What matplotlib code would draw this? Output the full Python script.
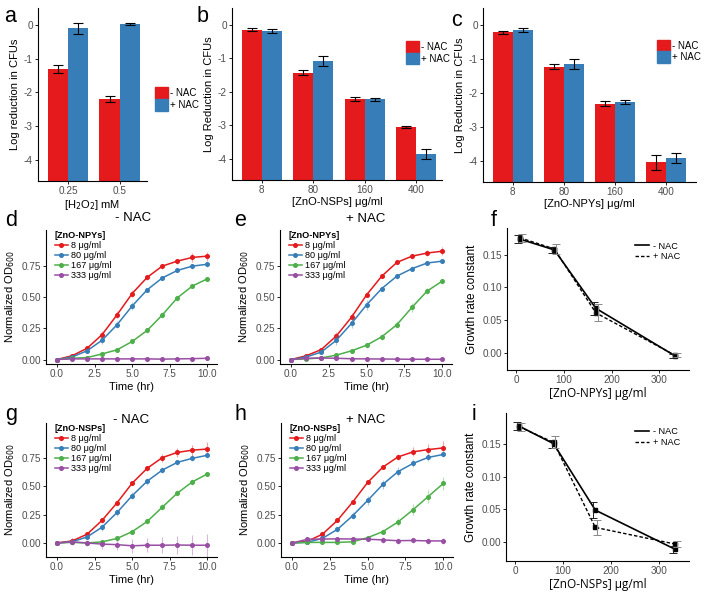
import matplotlib
matplotlib.use("Agg")
import matplotlib.pyplot as plt
from matplotlib.patches import Patch
from matplotlib.lines import Line2D
import numpy as np

plt.rcParams['font.family'] = ['Liberation Sans', 'DejaVu Sans']
plt.rcParams['axes.unicode_minus'] = False

W, H = 704, 593
RED, BLUE, GREEN, PURPLE = '#E41A1C', '#377EB8', '#4DAF4A', '#984EA3'
TICKCOL = '#4d4d4d'

# --- bar data (log reduction in CFUs) ---
h2o2_labels = ['0.25', '0.5']
h2o2_minus = [-1.32, -2.20]
h2o2_minus_err = [0.12, 0.10]
h2o2_plus = [-0.10, 0.03]
h2o2_plus_err = [0.16, 0.03]

dose_labels = ['8', '80', '160', '400']
nsp_minus = [-0.15, -1.43, -2.20, -3.05]
nsp_minus_err = [0.05, 0.07, 0.06, 0.02]
nsp_plus = [-0.20, -1.09, -2.22, -3.86]
nsp_plus_err = [0.06, 0.15, 0.05, 0.14]

npy_minus = [-0.22, -1.23, -2.32, -4.05]
npy_minus_err = [0.04, 0.07, 0.08, 0.22]
npy_plus = [-0.15, -1.15, -2.26, -3.93]
npy_plus_err = [0.06, 0.15, 0.06, 0.15]

# --- growth curves (normalized OD600) ---
time_hr = [0, 1, 2, 3, 4, 5, 6, 7, 8, 9, 10]
conc_labels = ['8 μg/ml', '80 μg/ml', '167 μg/ml', '333 μg/ml']

d_8 = [0, 0.03, 0.09, 0.20, 0.36, 0.53, 0.66, 0.75, 0.79, 0.82, 0.83]
d_8_err = [0, 0.01, 0.015, 0.032, 0.03, 0.025, 0.02, 0.02, 0.02, 0.035, 0.035]
d_80 = [0, 0.02, 0.07, 0.155, 0.28, 0.43, 0.56, 0.655, 0.715, 0.75, 0.765]
d_80_err = [0, 0.01, 0.01, 0.03, 0.03, 0.035, 0.015, 0.015, 0.015, 0.02, 0.02]
d_167 = [0, 0.01, 0.016, 0.045, 0.078, 0.145, 0.234, 0.357, 0.495, 0.59, 0.648]
d_167_err = [0, 0.005, 0.005, 0.008, 0.01, 0.02, 0.02, 0.025, 0.025, 0.015, 0.01]
d_333 = [0, 0.005, 0.005, 0.005, 0.005, 0.005, 0.005, 0.003, 0.005, 0.007, 0.01]
d_333_err = [0, 0.004, 0.004, 0.004, 0.004, 0.004, 0.004, 0.004, 0.004, 0.004, 0.004]

e_8 = [0, 0.03, 0.08, 0.19, 0.34, 0.52, 0.67, 0.78, 0.83, 0.855, 0.87]
e_8_err = [0, 0.01, 0.015, 0.03, 0.035, 0.02, 0.015, 0.015, 0.02, 0.025, 0.03]
e_80 = [0, 0.02, 0.06, 0.155, 0.29, 0.44, 0.57, 0.67, 0.73, 0.775, 0.79]
e_80_err = [0, 0.01, 0.01, 0.04, 0.04, 0.04, 0.02, 0.02, 0.02, 0.02, 0.015]
e_167 = [0, 0.005, 0.013, 0.035, 0.07, 0.115, 0.183, 0.28, 0.42, 0.55, 0.63]
e_167_err = [0, 0.004, 0.005, 0.01, 0.012, 0.02, 0.025, 0.03, 0.035, 0.025, 0.02]
e_333 = [0, 0.01, 0.012, 0.01, 0.006, 0.005, 0.004, 0.003, 0.002, 0.002, 0.002]
e_333_err = [0, 0.004, 0.004, 0.004, 0.004, 0.004, 0.004, 0.004, 0.004, 0.004, 0.004]

g_8 = [0, 0.018, 0.077, 0.20, 0.356, 0.528, 0.66, 0.754, 0.80, 0.82, 0.83]
g_8_err = [0, 0.03, 0.02, 0.025, 0.025, 0.02, 0.02, 0.035, 0.04, 0.05, 0.06]
g_80 = [0, 0.01, 0.053, 0.14, 0.27, 0.418, 0.546, 0.644, 0.712, 0.748, 0.775]
g_80_err = [0, 0.01, 0.015, 0.03, 0.03, 0.03, 0.03, 0.03, 0.025, 0.025, 0.02]
g_167 = [0, 0.005, 0.0, 0.01, 0.04, 0.10, 0.19, 0.316, 0.44, 0.54, 0.61]
g_167_err = [0, 0.005, 0.01, 0.01, 0.01, 0.02, 0.02, 0.025, 0.025, 0.025, 0.02]
g_333 = [0, 0.01, 0.0, -0.01, -0.015, -0.025, -0.02, -0.02, -0.018, -0.02, -0.02]
g_333_err = [0, 0.03, 0.03, 0.04, 0.05, 0.06, 0.06, 0.07, 0.08, 0.09, 0.10]

h_8 = [0, 0.015, 0.076, 0.20, 0.36, 0.535, 0.67, 0.76, 0.805, 0.825, 0.84]
h_8_err = [0, 0.01, 0.01, 0.015, 0.015, 0.015, 0.02, 0.03, 0.04, 0.05, 0.06]
h_80 = [0, 0.006, 0.04, 0.12, 0.24, 0.376, 0.517, 0.63, 0.703, 0.756, 0.782]
h_80_err = [0, 0.01, 0.01, 0.02, 0.03, 0.04, 0.04, 0.04, 0.035, 0.03, 0.02]
h_167 = [0, 0.005, 0.005, 0.005, 0.01, 0.047, 0.10, 0.185, 0.294, 0.41, 0.526]
h_167_err = [0, 0.005, 0.005, 0.005, 0.01, 0.01, 0.02, 0.035, 0.05, 0.06, 0.06]
h_333 = [0, 0.032, 0.035, 0.036, 0.035, 0.033, 0.027, 0.02, 0.022, 0.018, 0.018]
h_333_err = [0, 0.02, 0.02, 0.02, 0.02, 0.02, 0.025, 0.025, 0.025, 0.025, 0.03]

# --- growth rate constants ---
rate_conc = [8, 80, 167, 333]
f_minus = [0.174, 0.1575, 0.068, -0.005]
f_minus_err = [0.006, 0.005, 0.010, 0.003]
f_plus = [0.176, 0.159, 0.061, -0.004]
f_plus_err = [0.006, 0.008, 0.013, 0.003]
i_minus = [0.178, 0.151, 0.049, -0.011]
i_minus_err = [0.006, 0.006, 0.012, 0.005]
i_plus = [0.177, 0.153, 0.0225, -0.003]
i_plus_err = [0.006, 0.009, 0.012, 0.004]


def px_axes(fig, left, top, right, bottom):
    return fig.add_axes([left / W, 1 - bottom / H, (right - left) / W, (bottom - top) / H])


def style(ax):
    for s in ['top', 'right']:
        ax.spines[s].set_visible(False)
    for s in ['left', 'bottom']:
        ax.spines[s].set_linewidth(0.8)
    ax.tick_params(labelsize=7.2, labelcolor=TICKCOL, length=2.2, width=0.6, pad=1.5)


def bar_panel(ax, labels, minus, minus_err, plus, plus_err, xlabel, ylabel, xmax):
    x = np.arange(len(labels))
    w = 0.39
    base = -4.63
    ax.bar(x - w / 2, np.array(minus) - base, w, bottom=base, color=RED)
    ax.bar(x + w / 2, np.array(plus) - base, w, bottom=base, color=BLUE)
    ax.errorbar(x - w / 2, minus, yerr=minus_err, fmt='none', ecolor='black',
                capsize=3.5, elinewidth=0.8, capthick=0.8)
    ax.errorbar(x + w / 2, plus, yerr=plus_err, fmt='none', ecolor='black',
                capsize=3.5, elinewidth=0.8, capthick=0.8)
    ax.set_ylim(base, 0.5)
    ax.set_xlim(-0.58, xmax)
    ax.set_yticks([0, -1, -2, -3, -4])
    ax.set_yticklabels(['0', '-1', '-2', '-3', '-4'])
    ax.set_xticks(x)
    ax.set_xticklabels(labels)
    ax.set_xlabel(xlabel, fontsize=8, labelpad=1)
    ax.set_ylabel(ylabel, fontsize=8, labelpad=3)
    style(ax)


def growth_panel(ax, series, errs, legend_title, ylim):
    for y, e, c, lab in zip(series, errs, [RED, BLUE, GREEN, PURPLE], conc_labels):
        ax.errorbar(time_hr, y, yerr=e, fmt='none', ecolor=c, alpha=0.4, elinewidth=0.8)
        ax.plot(time_hr, y, color=c, lw=1.1, marker='o', ms=2.6, label=lab)
    ax.set_xlim(-0.73, 10.64)
    ax.set_ylim(*ylim)
    ax.set_xticks([0, 2.5, 5, 7.5, 10])
    ax.set_xticklabels(['0.0', '2.5', '5.0', '7.5', '10.0'])
    ax.set_yticks([0, 0.25, 0.5, 0.75])
    ax.set_yticklabels(['0.00', '0.25', '0.50', '0.75'])
    ax.set_xlabel('Time (hr)', fontsize=8, labelpad=2)
    ax.set_ylabel('Normalized OD$_{600}$', fontsize=8, labelpad=3)
    leg = ax.legend(loc='upper left', bbox_to_anchor=(0.03, 1.02), frameon=False,
                    fontsize=6.6, title=legend_title, handlelength=1.4,
                    labelspacing=0.12, handletextpad=0.4, borderaxespad=0)
    leg.get_title().set_fontweight('bold')
    leg.get_title().set_fontsize(6.6)
    leg._legend_box.align = 'left'
    style(ax)


def rate_panel(ax, minus, minus_err, plus, plus_err, xlabel, ylim):
    xc = np.array(rate_conc)
    ax.plot(xc, minus, color='black', lw=1.2, marker='s', ms=2.2)
    ax.plot(xc, plus, color='black', lw=1.0, ls=(0, (2.5, 1.5)), marker='s', ms=2.2)
    ax.errorbar(xc - 4, minus, yerr=minus_err, fmt='none', ecolor='#222222',
                capsize=2.8, elinewidth=0.7, capthick=0.7)
    ax.errorbar(xc + 4, plus, yerr=plus_err, fmt='none', ecolor='#888888',
                capsize=2.8, elinewidth=0.7, capthick=0.7)
    ax.set_xlim(-19, 362)
    ax.set_ylim(*ylim)
    ax.set_xticks([0, 100, 200, 300])
    ax.set_yticks([0, 0.05, 0.10, 0.15])
    ax.set_yticklabels(['0.00', '0.05', '0.10', '0.15'])
    ax.set_xlabel(xlabel, fontsize=8.5, family=['Open Sans', 'DejaVu Sans'], labelpad=1)
    ax.set_ylabel('Growth rate constant', fontsize=8.5, labelpad=3)
    handles = [Line2D([], [], color='black', lw=1.2),
               Line2D([], [], color='black', lw=1.0, ls=(0, (2.5, 1.5)))]
    ax.legend(handles, ['- NAC', '+ NAC'], loc='upper right', bbox_to_anchor=(0.97, 0.93),
              frameon=False, fontsize=6.6, handlelength=1.5, labelspacing=0.2,
              handletextpad=0.4, borderaxespad=0)
    style(ax)


def bar_legend(target, anchor, loc):
    handles = [Patch(color=RED), Patch(color=BLUE)]
    return target.legend(handles, ['- NAC', '+ NAC'], loc=loc, bbox_to_anchor=anchor,
                         frameon=False, fontsize=7, handlelength=1.3, handleheight=1.45,
                         labelspacing=0, handletextpad=0.25, borderaxespad=0)


fig = plt.figure(figsize=(W / 100, H / 100), dpi=100)

# row 1: bar charts
ax_a = px_axes(fig, 38, 8, 147, 181)
bar_panel(ax_a, h2o2_labels, h2o2_minus, h2o2_minus_err, h2o2_plus, h2o2_plus_err,
          '[H$_2$O$_2$] mM', 'Log reduction in CFUs', 1.53)
bar_legend(fig, (151 / W, 1 - 99 / H), 'center left')

ax_b = px_axes(fig, 232, 8, 442, 180)
bar_panel(ax_b, dose_labels, nsp_minus, nsp_minus_err, nsp_plus, nsp_plus_err,
          '[ZnO-NSPs] μg/ml', 'Log Reduction in CFUs', 3.5)
bar_legend(ax_b, (0.81, 0.83), 'upper left')

ax_c = px_axes(fig, 483, 8, 696, 182)
bar_panel(ax_c, dose_labels, npy_minus, npy_minus_err, npy_plus, npy_plus_err,
          '[ZnO-NPYs] μg/ml', 'Log Reduction in CFUs', 3.59)
bar_legend(ax_c, (0.8, 0.84), 'upper left')

# row 2
ax_d = px_axes(fig, 46, 230, 217, 364)
growth_panel(ax_d, [d_8, d_80, d_167, d_333], [d_8_err, d_80_err, d_167_err, d_333_err],
             '[ZnO-NPYs]', (-0.036, 1.04))
ax_e = px_axes(fig, 280, 230, 452, 364)
growth_panel(ax_e, [e_8, e_80, e_167, e_333], [e_8_err, e_80_err, e_167_err, e_333_err],
             '[ZnO-NPYs]', (-0.036, 1.04))
ax_f = px_axes(fig, 507, 228, 689, 370)
rate_panel(ax_f, f_minus, f_minus_err, f_plus, f_plus_err, '[ZnO-NPYs] μg/ml',
           (-0.0265, 0.191))

# row 3
ax_g = px_axes(fig, 46, 423, 217, 557)
growth_panel(ax_g, [g_8, g_80, g_167, g_333], [g_8_err, g_80_err, g_167_err, g_333_err],
             '[ZnO-NSPs]', (-0.124, 1.06))
ax_h = px_axes(fig, 281, 423, 453, 557)
growth_panel(ax_h, [h_8, h_80, h_167, h_333], [h_8_err, h_80_err, h_167_err, h_333_err],
             '[ZnO-NSPs]', (-0.124, 1.06))
ax_i = px_axes(fig, 506, 413, 689, 561)
rate_panel(ax_i, i_minus, i_minus_err, i_plus, i_plus_err, '[ZnO-NSPs] μg/ml',
           (-0.029, 0.198))

# panel titles
for s, tx, ty in [('- NAC', 133, 218), ('+ NAC', 366, 219), ('- NAC', 131, 420),
                  ('+ NAC', 366, 420)]:
    fig.text(tx / W, 1 - ty / H, s, fontsize=9.5, ha='center', va='center')

# panel letters
letters = [('a', 4, 22), ('b', 197, 22), ('c', 451, 26), ('d', 5, 226), ('e', 234, 226),
           ('f', 491, 226), ('g', 5, 420), ('h', 234, 420), ('i', 472, 420)]
for s, lx, ly in letters:
    fig.text(lx / W, 1 - ly / H, s, fontsize=15.5, va='baseline', ha='left')

fig.savefig('out.png', dpi=100)
